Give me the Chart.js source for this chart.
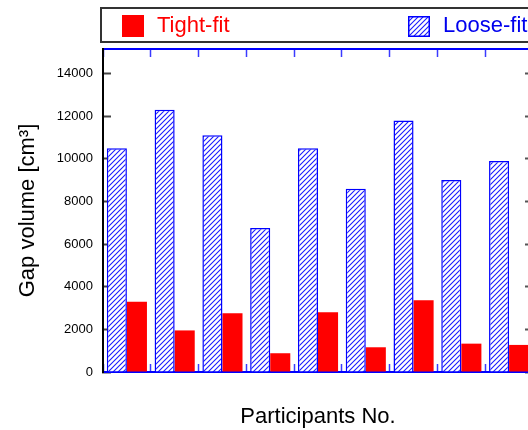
<!DOCTYPE html>
<html><head><meta charset="utf-8">
<script src="https://cdn.jsdelivr.net/npm/chart.js@4.4.1/dist/chart.umd.min.js"></script>
<style>
html,body{margin:0;padding:0;overflow:hidden;background:#fff;width:528px;height:430px}
#wrap{position:absolute;left:0;top:0;width:545px;height:430px}
</style></head><body>
<div id="wrap"><canvas id="c"></canvas></div>
<script>
const participants = ['1','2','3','4','5','6','7','8','9'];
const looseFit = [10500, 12300, 11100, 6750, 10500, 8600, 11800, 9000, 9900];
const tightFit = [3300, 1950, 2750, 880, 2800, 1160, 3360, 1330, 1270];
const yTickValues = [0, 2000, 4000, 6000, 8000, 10000, 12000, 14000];
const yMax = 15150;

const FONT = '"Liberation Sans", Arial, sans-serif';
Chart.defaults.font.family = FONT;

const canvas = document.getElementById('c');
const ctx = canvas.getContext('2d');

function makeHatch(){
  const s = 5;
  const c = document.createElement('canvas'); c.width = s; c.height = s;
  const g = c.getContext('2d');
  g.fillStyle = '#ffffff'; g.fillRect(0,0,s,s);
  g.strokeStyle = '#1a1aff'; g.lineWidth = 1.1;
  g.beginPath();
  g.moveTo(0,s); g.lineTo(s,0);
  g.moveTo(-1,1); g.lineTo(1,-1);
  g.moveTo(s-1,s+1); g.lineTo(s+1,s-1);
  g.stroke();
  return ctx.createPattern(c,'repeat');
}
const hatch = makeHatch();

const legendPlugin = {
  id: 'boxLegend',
  afterDraw(chart){
    const c = chart.ctx; const ds = chart.data.datasets;
    c.save();
    c.strokeStyle = '#333'; c.lineWidth = 2;
    c.strokeRect(101, 8, 600, 34);
    c.font = '22px ' + FONT; c.textBaseline = 'middle'; c.textAlign = 'left';
    const items = [
      {d: ds[1], bx: 122, by: 15, bw: 22, bh: 22, tx: 157},
      {d: ds[0], bx: 408, by: 16, bw: 22, bh: 21, tx: 443}
    ];
    items.forEach(it => {
      c.fillStyle = it.d.backgroundColor;
      c.fillRect(it.bx, it.by, it.bw, it.bh);
      if (it.d.borderWidth) {
        c.strokeStyle = it.d.borderColor; c.lineWidth = 1.5;
        c.strokeRect(it.bx + 0.75, it.by + 0.75, it.bw - 1.5, it.bh - 1.5);
      }
      c.fillStyle = it.d.textColor;
      c.fillText(it.d.label, it.tx, 25.5);
    });
    c.restore();
  }
};

const setTicks = (scale) => { scale.ticks = yTickValues.map(v => ({value: v})); };

new Chart(ctx, {
  type: 'bar',
  data: {
    labels: participants,
    datasets: [
      {label: 'Loose-fit', data: looseFit, backgroundColor: hatch, borderColor: '#0000ff', borderWidth: 1.5, textColor: '#0000ee', xAxisID: 'x', yAxisID: 'y'},
      {label: 'Tight-fit', data: tightFit, backgroundColor: '#ff0000', borderWidth: 0, textColor: '#ff0000', xAxisID: 'x', yAxisID: 'y'}
    ]
  },
  options: {
    responsive: true, maintainAspectRatio: false, animation: false,
    layout: {padding: 0},
    datasets: {bar: {categoryPercentage: 0.84, barPercentage: 1.0}},
    plugins: {legend: {display: false}, tooltip: {enabled: false}},
    scales: {
      x: {
        type: 'category', position: 'bottom', offset: true,
        grid: {offset: true, drawOnChartArea: false, drawTicks: true, tickLength: -8, tickColor: '#3a3aff', tickWidth: 1.5},
        border: {color: '#0000ff', width: 2},
        ticks: {display: false},
        title: {display: true, text: 'Participants No.', color: '#000', font: {size: 22, family: FONT}, padding: {top: 0, bottom: 0}},
        afterFit(s){ s.height = 58; }
      },
      x2: {
        type: 'category', position: 'top', labels: participants, offset: true,
        grid: {offset: true, drawOnChartArea: false, drawTicks: true, tickLength: -8, tickColor: '#3a3aff', tickWidth: 1.5},
        border: {color: '#0000ff', width: 2},
        ticks: {display: false},
        afterFit(s){ s.height = 49; }
      },
      y: {
        type: 'linear', position: 'left', min: 0, max: yMax,
        afterBuildTicks: setTicks,
        ticks: {padding: 18, color: '#000', font: {size: 13, family: FONT}, callback: v => String(v)},
        grid: {drawOnChartArea: false, drawTicks: true, tickLength: -8, tickColor: '#444', tickWidth: 2},
        border: {color: '#000', width: 2},
        title: {display: true, text: 'Gap volume [cm³]', color: '#000', font: {size: 22, family: FONT}, padding: {top: 15, bottom: 0}},
        afterFit(s){ s.width = 103; }
      },
      y2: {
        type: 'linear', position: 'right', min: 0, max: yMax,
        afterBuildTicks: setTicks,
        ticks: {display: false},
        grid: {drawOnChartArea: false, drawTicks: true, tickLength: -8, tickColor: '#555', tickWidth: 2},
        border: {color: '#000', width: 2},
        afterFit(s){ s.width = 12; }
      }
    }
  },
  plugins: [legendPlugin]
});
</script>
</body></html>
